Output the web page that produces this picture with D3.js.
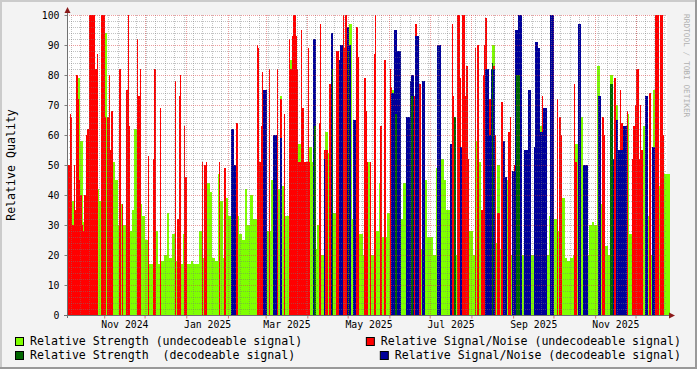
<!DOCTYPE html>
<html>
<head>
<meta charset="utf-8">
<script src="https://cdn.jsdelivr.net/npm/d3@7"></script>
<style>
  body { margin: 0; background: #f3f3f3; }
  text { font-family: "DejaVu Sans Mono", monospace; white-space: pre; }
</style>
</head>
<body>
<div id="chart"></div>
<script>
// ---- data ----
var rangeStart = new Date(2024, 9, 4, 8)
var rangeEnd = new Date(2025, 11, 24, 10)

// undecodeable strength, one sample per 2 days
var strengthStep = 2
var strengthUndec = [
  35, 42, 38, 33, 79, 58, 31, 30, 30, 33,
  33, 42, 38, 30, 94, 56, 30, 51, 45, 30,
  37, 30, 30, 28, 35, 62, 45, 37, 33, 25,
  17, 17, 18, 28, 17, 18, 20, 34, 19, 27,
  18, 19, 17, 27, 17, 17, 18, 17, 17, 28,
  19, 27, 44, 41, 19, 18, 47, 38, 19, 39,
  33, 43, 43, 33, 27, 25, 42, 30, 40, 32,
  32, 30, 30, 28, 28, 28, 45, 30, 42, 73,
  43, 33, 33, 85, 30, 30, 57, 30, 30, 30,
  56, 51, 22, 30, 20, 20, 61, 54, 20, 34,
  34, 22, 22, 22, 22, 97, 32, 28, 27, 27,
  20, 20, 51, 20, 28, 28, 44, 26, 26, 34,
  34, 75, 20, 32, 32, 44, 35, 35, 54, 22,
  85, 22, 20, 45, 26, 26, 20, 49, 49, 52,
  45, 35, 35, 20, 20, 20, 44, 60, 52, 28,
  28, 20, 58, 51, 32, 20, 20, 20, 90, 24,
  50, 22, 22, 45, 20, 20, 20, 89, 20, 20,
  20, 26, 20, 20, 20, 20, 63, 54, 20, 33,
  33, 32, 28, 51, 39, 19, 18, 19, 20, 57,
  20, 66, 20, 20, 30, 31, 30, 83, 37, 23,
  23, 20, 80, 51, 70, 48, 20, 20, 67, 27,
  20, 49, 49, 20, 63, 28, 33, 20, 75, 43,
  43, 20, 47, 47
]

// undecodeable signal/noise: day since rangeStart, value
var snrUndecDays = [1, 2, 3, 4, 5, 6, 7, 8, 9, 10, 11, 12, 13, 14, 15, 16, 17, 18, 19, 20, 21, 22, 25, 26, 27, 28, 30,
  31, 32, 33, 39, 41, 44, 45, 46, 52, 53, 54, 60, 64, 65, 69, 80, 82, 83, 84, 87,
  88, 100, 102, 103, 113, 117, 126, 141, 142, 143, 144, 145, 150, 156, 158, 159, 161, 165, 166, 167,
  168, 169, 170, 171, 172, 173, 174, 175, 176, 177, 178, 179, 180, 187, 188, 191, 192, 193, 195, 196,
  197, 200, 201, 205, 206, 207, 215, 216, 221, 222, 223, 225, 228, 229, 233, 236, 240, 241, 245, 257,
  258, 259, 262, 285, 286, 287, 290, 291, 292, 294, 295, 296, 297, 298, 303, 305, 308, 309, 310, 311,
  313, 314, 317, 318, 320, 321, 323, 328, 329, 332, 344, 349, 353, 355, 356, 364, 366, 367, 377, 378,
  398, 399, 404, 407, 408, 411, 412, 416, 420, 421, 422, 423, 424, 425, 426, 427, 433, 437, 438, 439,
  441, 442, 443]
var snrUndecVals = [50, 67, 66, 30, 50, 35, 80, 72, 45, 40, 30, 28, 40, 60, 62, 100, 100, 100, 100, 100, 82, 87, 100, 100, 100, 66, 66,
  80, 55, 68, 82, 37, 75, 100, 63, 92, 73, 82, 53, 52, 82, 69, 78, 32, 73, 80, 63,
  46, 51, 50, 51, 51, 49, 64, 90, 89, 51, 63, 81, 82, 82, 72, 72, 67, 92, 82, 93,
  100, 100, 93, 82, 51, 51, 95, 69, 51, 51, 51, 89, 51, 64, 97, 55, 55, 55, 77, 77,
  77, 88, 88, 100, 89, 100, 96, 86, 79, 68, 51, 51, 87, 100, 63, 85, 82, 76, 63, 73,
  73, 97, 77, 57, 97, 73, 100, 100, 79, 100, 100, 73, 83, 52, 89, 90, 35, 80, 90, 99,
  67, 72, 83, 60, 34, 34, 71, 61, 66, 50, 64, 83, 73, 50, 50, 72, 66, 60, 77, 51,
  66, 60, 71, 79, 60, 75, 64, 68, 52, 63, 70, 82, 82, 52, 70, 55, 74, 100, 100, 100,
  100, 100, 60]

// decodeable signal/noise
var snrDecDays = [0, 122, 123, 124, 125, 146, 147, 148, 153, 154, 155, 158, 159, 183, 184, 191, 196, 197, 202, 203,
  204, 208, 209, 210, 213, 214, 241, 242, 243, 244, 245, 246, 247, 252, 253, 254, 255, 256, 257, 259,
  260, 261, 264, 265, 275, 276, 277, 285, 292, 293, 311, 312, 313, 314, 315, 316, 317, 324, 325, 326,
  331, 332, 333, 334, 335, 336, 337, 340, 341, 342, 343, 344, 347, 348, 349, 350, 351, 352, 353, 354,
  355, 356, 359, 360, 361, 380, 381, 384, 385, 386, 395, 396, 404, 405, 406, 408, 409, 410, 411, 412,
  413, 414, 415, 430, 431, 435, 436]
var snrDecVals = [68, 62, 62, 50, 50, 75, 75, 75, 60, 60, 60, 59, 59, 92, 92, 52, 94, 94, 85, 90,
  90, 96, 96, 90, 65, 65, 74, 74, 95, 95, 88, 88, 88, 66, 66, 66, 78, 80, 80, 93,
  93, 93, 78, 78, 90, 90, 90, 57, 56, 56, 82, 82, 82, 60, 82, 82, 82, 58, 58, 46,
  48, 48, 95, 95, 100, 100, 100, 55, 55, 55, 75, 75, 56, 91, 91, 89, 89, 61, 61, 69,
  69, 69, 100, 100, 100, 97, 97, 50, 50, 50, 73, 73, 52, 52, 52, 65, 65, 55, 55, 55,
  63, 63, 63, 73, 73, 56, 56]

// decodeable strength
var strengthDecDays = [184, 197, 209, 244, 256, 288, 316, 334, 335, 336, 404, 405]
var strengthDecVals = [63, 82, 88, 67, 73, 66, 84, 80, 80, 80, 77, 77]

var labelMonths = ["2024-11", "2025-01", "2025-03", "2025-05", "2025-07", "2025-09", "2025-11"]

var legendItems = [
  { name: "Relative Strength (undecodeable signal)", color: "#7fff00" },
  { name: "Relative Signal/Noise (undecodeable signal)", color: "#ff0000" },
  { name: "Relative Strength  (decodeable signal)", color: "#006600" },
  { name: "Relative Signal/Noise (decodeable signal)", color: "#000099" }
]

// ---- layout ----
var svgSize = { width: 697, height: 369 }
var plot = { left: 67, right: 667, top: 15, bottom: 315 }

var svg = d3.select("#chart").append("svg")
  .attr("width", svgSize.width)
  .attr("height", svgSize.height)

svg.append("rect").attr("width", svgSize.width).attr("height", svgSize.height).attr("fill", "#f3f3f3")
// rrd style shaded border
svg.append("path").attr("d", "M0,369V0H697").attr("fill", "none").attr("stroke", "#cbcbcb").attr("stroke-width", 4)
svg.append("path").attr("d", "M697,0V369H0").attr("fill", "none").attr("stroke", "#999999").attr("stroke-width", 4)

svg.append("rect")
  .attr("x", plot.left).attr("y", plot.top)
  .attr("width", plot.right - plot.left).attr("height", plot.bottom - plot.top)
  .attr("fill", "#ffffff")

var xScale = d3.scaleTime().domain([rangeStart, rangeEnd]).range([plot.left, plot.right])
var yScale = d3.scaleLinear().domain([0, 100]).range([plot.bottom, plot.top])

var dayAt = k => d3.timeHour.offset(rangeStart, k * 24)

var chartData = svg.append("g").attr("shape-rendering", "crispEdges")

function drawBars(days, vals, color, span) {
  chartData.append("g").selectAll("rect")
    .data(days.map((d, i) => ({ day: d, v: vals[i] })))
    .enter()
    .append("rect")
    .attr("x", d => xScale(dayAt(d.day)))
    .attr("width", d => xScale(dayAt(d.day + span)) - xScale(dayAt(d.day)))
    .attr("y", d => yScale(d.v))
    .attr("height", d => yScale(0) - yScale(d.v))
    .attr("fill", color)
}

drawBars(strengthUndec.map((v, i) => i * strengthStep), strengthUndec, "#7fff00", strengthStep)
drawBars(snrUndecDays, snrUndecVals, "#ff0000", 1)
drawBars(snrDecDays, snrDecVals, "#000099", 1)
drawBars(strengthDecDays, strengthDecVals, "#006600", 1)

// ---- grid (on top of the data, like rrdtool) ----
var grid = svg.append("g").attr("shape-rendering", "crispEdges")
var minorY = d3.range(0, 101, 2).filter(v => v % 10 != 0)
var majorY = d3.range(0, 101, 10)
var weeks = d3.timeMonday.range(rangeStart, rangeEnd)
var months = d3.timeMonth.range(rangeStart, rangeEnd)

grid.selectAll(".minY").data(minorY).enter().append("line")
  .attr("x1", plot.left).attr("x2", plot.right)
  .attr("y1", d => Math.round(yScale(d)) + 0.5).attr("y2", d => Math.round(yScale(d)) + 0.5)
  .attr("stroke", "rgba(120,120,120,0.45)").attr("stroke-dasharray", "1,1")
grid.selectAll(".minX").data(weeks).enter().append("line")
  .attr("x1", d => Math.round(xScale(d)) + 0.5).attr("x2", d => Math.round(xScale(d)) + 0.5)
  .attr("y1", plot.top).attr("y2", plot.bottom)
  .attr("stroke", "rgba(120,120,120,0.45)").attr("stroke-dasharray", "1,1")
grid.selectAll(".majY").data(majorY.slice(1)).enter().append("line")
  .attr("x1", plot.left).attr("x2", plot.right)
  .attr("y1", d => Math.round(yScale(d)) + 0.5).attr("y2", d => Math.round(yScale(d)) + 0.5)
  .attr("stroke", "rgba(220,60,60,0.5)").attr("stroke-dasharray", "1,1")
grid.selectAll(".majX").data(months).enter().append("line")
  .attr("x1", d => Math.round(xScale(d)) + 0.5).attr("x2", d => Math.round(xScale(d)) + 0.5)
  .attr("y1", plot.top).attr("y2", plot.bottom)
  .attr("stroke", "rgba(220,60,60,0.5)").attr("stroke-dasharray", "1,1")

// ---- axes ----
var leftAxis = d3.axisLeft(yScale).tickValues(majorY).tickSize(3).tickPadding(5)
var yAxisG = svg.append("g").attr("transform", `translate(${plot.left + 0.5},0)`).call(leftAxis)
yAxisG.select(".domain").remove()
yAxisG.selectAll("line").attr("stroke", "#808080")
yAxisG.selectAll("text").attr("font-size", "9.8px").attr("fill", "#000")

var monthTicks = d3.axisBottom(xScale).tickValues(months).tickSize(3).tickFormat("")
var xTickG = svg.append("g").attr("transform", `translate(0,${plot.bottom + 0.5})`).call(monthTicks)
xTickG.select(".domain").remove()
xTickG.selectAll("line").attr("stroke", "rgba(200,60,60,0.7)")

var labelDates = labelMonths.map(m => {
  var s = d3.timeParse("%Y-%m")(m)
  var e = d3.timeMonth.offset(s, 1)
  return new Date((s.getTime() + e.getTime()) / 2)
})
var labelAxis = d3.axisBottom(xScale).tickValues(labelDates).tickSize(0).tickPadding(5)
  .tickFormat(d3.timeFormat("%b %Y"))
var xLabG = svg.append("g").attr("transform", `translate(0,${plot.bottom + 1})`).call(labelAxis)
xLabG.select(".domain").remove()
xLabG.selectAll("text").attr("font-size", "9.8px").attr("fill", "#000")

// axis lines and arrows
svg.append("line").attr("x1", plot.left - 3).attr("x2", plot.right + 4)
  .attr("y1", plot.bottom + 0.5).attr("y2", plot.bottom + 0.5).attr("stroke", "#707070")
svg.append("line").attr("x1", plot.left + 0.5).attr("x2", plot.left + 0.5)
  .attr("y1", plot.bottom + 3).attr("y2", plot.top - 3).attr("stroke", "#707070")
svg.append("path").attr("d", `M${plot.left - 2.5},${plot.top - 2}L${plot.left + 0.5},${plot.top - 8}L${plot.left + 3.5},${plot.top - 2}Z`)
  .attr("fill", "#8b1a1a")
svg.append("path").attr("d", `M${plot.right + 2},${plot.bottom - 2.5}L${plot.right + 8},${plot.bottom + 0.5}L${plot.right + 2},${plot.bottom + 3.5}Z`)
  .attr("fill", "#8b1a1a")

// ---- titles ----
svg.append("text")
  .attr("transform", `translate(15,${(plot.top + plot.bottom) / 2}) rotate(-90)`)
  .attr("text-anchor", "middle")
  .attr("font-size", "11.6px")
  .text("Relative Quality")

svg.append("text")
  .attr("transform", "translate(684,14) rotate(90)")
  .attr("font-size", "7.8px")
  .attr("fill", "#b0b0b0")
  .text("RRDTOOL / TOBI OETIKER")

// ---- legend ----
var legend = svg.append("g")
legendItems.forEach((item, i) => {
  var row = i >> 1
  var ty = 345 + row * 14
  var t = legend.append("text").attr("y", ty).attr("font-size", "11.6px")
    .attr("xml:space", "preserve").text(item.name)
  var tx
  if (i % 2 == 0) {
    tx = 30
    t.attr("x", tx)
  } else {
    t.attr("x", 681).attr("text-anchor", "end")
    tx = 681 - t.node().getComputedTextLength()
  }
  legend.append("rect")
    .attr("x", tx - 14.5).attr("y", ty - 7.5)
    .attr("width", 8).attr("height", 8)
    .attr("fill", item.color).attr("stroke", "#000")
})
</script>
</body>
</html>
